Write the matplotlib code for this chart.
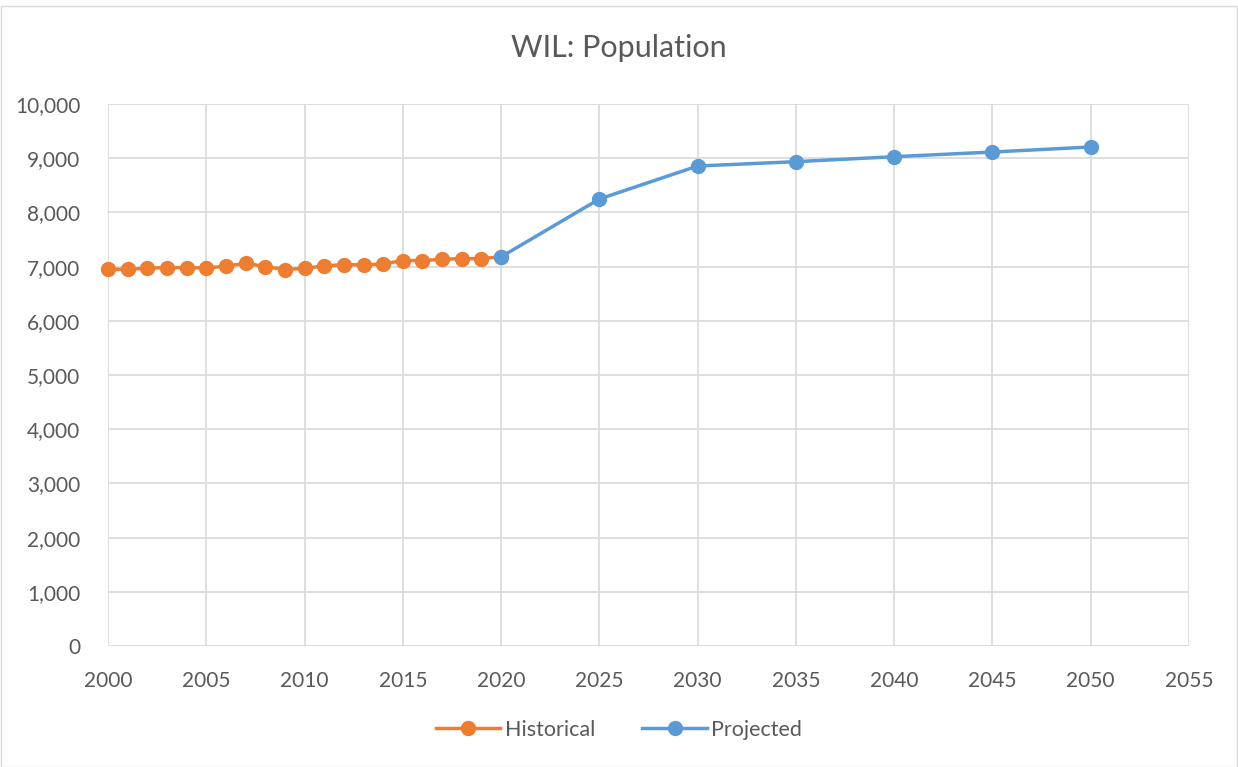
import matplotlib
matplotlib.use("Agg")
import matplotlib.pyplot as plt
from matplotlib.patches import Rectangle

hist_years = list(range(2000, 2021))
hist_values = [6950, 6950, 6970, 6982, 6982, 6975, 7006, 7062, 7000, 6945,
               6969, 7012, 7037, 7031, 7049, 7111, 7111, 7135, 7148, 7148, 7180]
proj_years = [2020, 2025, 2030, 2035, 2040, 2045, 2050]
proj_values = [7180, 8247, 8856, 8936, 9028, 9114, 9207]
x_ticks = list(range(2000, 2060, 5))
y_ticks = list(range(0, 11000, 1000))

plt.rcParams['font.family'] = ['Lato', 'DejaVu Sans']
W, H = 1238, 767
fig = plt.figure(figsize=(W / 100, H / 100), dpi=100)
fig.patches.append(Rectangle((0.5 / W, 0.5 / H), 1 - 2 / W, 1 - 6 / H, transform=fig.transFigure,
                             fill=False, edgecolor='#d9d9d9', linewidth=1))
ax = fig.add_axes([108 / W, 1 - 646 / H, (1189 - 108) / W, (646 - 104) / H])

orange = '#ED7D31'
blue = '#5B9BD5'
ax.plot(hist_years, hist_values, color=orange, linewidth=2.5, marker='o', markersize=10,
        label='Historical', zorder=3, clip_on=False)
ax.plot(proj_years, proj_values, color=blue, linewidth=2.5, marker='o', markersize=10,
        label='Projected', zorder=4, clip_on=False)

ax.set_xlim(2000, 2055)
ax.set_ylim(0, 10000)
ax.set_xticks(x_ticks)
ax.set_yticks(y_ticks)
ax.set_yticklabels([f"{v:,}" for v in y_ticks])
ax.grid(True, color='#d9d9d9', linewidth=1.2)
ax.set_axisbelow(True)
for s in ax.spines.values():
    s.set_visible(False)
ax.tick_params(length=0, labelsize=15, colors='#595959')
ax.tick_params(axis='x', pad=25)
ax.tick_params(axis='y', pad=20)
for lbl in ax.get_xticklabels():
    lbl.set_verticalalignment('center')

fig.text(0.5, 1 - 48 / H, 'WIL: Population', ha='center', va='center', fontsize=22, color='#595959')
leg = fig.legend(loc='center', bbox_to_anchor=(0.5, 1 - 730 / H), ncol=2, frameon=False,
                 fontsize=15.5, handlelength=3, columnspacing=2.2, handletextpad=0.2)
for t in leg.get_texts():
    t.set_color('#595959')

fig.savefig('out.png', dpi=100)
